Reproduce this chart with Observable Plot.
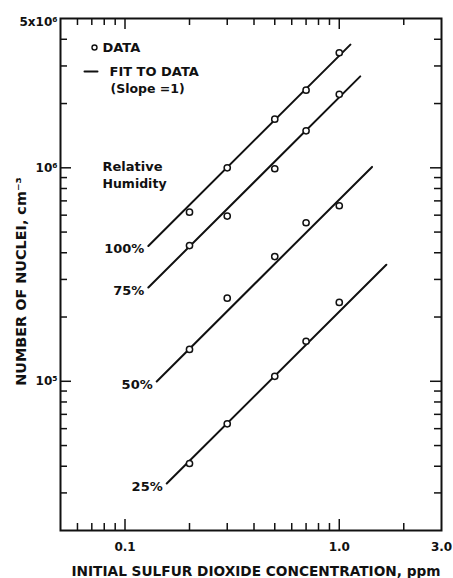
<!DOCTYPE html>
<html>
<head>
<meta charset="utf-8">
<script src="https://cdn.jsdelivr.net/npm/d3@7"></script>
<script src="https://cdn.jsdelivr.net/npm/@observablehq/plot@0.6"></script>
<style>
  html, body { margin: 0; padding: 0; background: #fff; }
</style>
</head>
<body>
<div id="chart"></div>
<script>
// ---- data ----
const concentration = [0.2, 0.3, 0.5, 0.7, 1.0];          // ppm SO2
const humidity = ["100%", "75%", "50%", "25%"];
const nuclei100 = [6.2e5, 1.0e6, 1.69e6, 2.31e6, 3.46e6];
const nuclei75  = [4.32e5, 5.94e5, 9.9e5, 1.49e6, 2.21e6];
const nuclei50  = [1.41e5, 2.45e5, 3.84e5, 5.53e5, 6.64e5];
const nuclei25  = [4.12e4, 6.32e4, 1.055e5, 1.54e5, 2.34e5];
// fits of slope 1 (N = k * c), with their drawn extent in c
const fitCoef  = [3.35e6, 2.14e6, 7.1e5, 2.12e5];
const fitStart = [0.1285, 0.1285, 0.1406, 0.1566];
const fitEnd   = [1.127, 1.253, 1.422, 1.658];
// axes
const xTickValues = [0.1, 1, 3];
const xTickText   = ["0.1", "1.0", "3.0"];
const yTickValues = [1e5, 1e6];
const yTickText   = ["10⁵", "10⁶"];
const yTopValue = [5e6];
const yTopText = "5x10⁶";
const xMajorTicks = [0.1, 1];
const xMinorTicks = [0.06, 0.07, 0.08, 0.09, 0.2, 0.3, 0.4, 0.5, 0.6, 0.7, 0.8, 0.9, 2];
const yMajorTicks = [1e5, 1e6];
const yMinorTicks = [3e4, 4e4, 5e4, 6e4, 7e4, 8e4, 9e4,
                     2e5, 3e5, 4e5, 5e5, 6e5, 7e5, 8e5, 9e5,
                     2e6, 3e6, 4e6];
const xTitle = "INITIAL SULFUR DIOXIDE CONCENTRATION, ppm";
const yTitle = "NUMBER OF NUCLEI, cm⁻³";
const legendText = ["DATA", "FIT TO DATA", "(Slope =1)"];
const humidityTitle = ["Relative", "Humidity"];

// ---- layout ----
const W = 453, H = 578;
const mL = 60, mR = 12, mT = 18, mB = 48;
const innerW = W - mL - mR, innerH = H - mT - mB;
const ink = "#111";
const minorLen = 7, majorLen = 11;

const series = [nuclei100, nuclei75, nuclei50, nuclei25];
const points = humidity.flatMap((h, j) =>
  concentration.map((c, i) => ({h, c, n: series[j][i]})));
const fitRows = humidity.flatMap((h, j) =>
  [fitStart[j], fitEnd[j]].map(c => ({h, c, n: fitCoef[j] * c})));
const labelRows = humidity.map((h, j) => ({h, c: fitStart[j], n: fitCoef[j] * fitStart[j]}));

const lineShape = {draw(context, l) { context.moveTo(0, 0); context.lineTo(0, -l); }};
const note = (t, dx, dy, size) => Plot.text([t], {
  frameAnchor: "top-left", dx, dy, text: d => d,
  textAnchor: "start", lineAnchor: "middle", fontSize: size, fill: ink
});

const chart = Plot.plot({
  width: W, height: H,
  marginLeft: mL, marginRight: mR, marginTop: mT, marginBottom: mB,
  style: {fontFamily: "DejaVu Sans", fontWeight: "bold", fontSize: "12px", color: ink, background: "#fff"},
  x: {type: "log", domain: [0.05, 3], axis: null},
  y: {type: "log", domain: [2e4, 5.005e6]},
  marks: [
    // inward ticks on all four sides
    Plot.tickX(xMinorTicks, {insetTop: innerH - minorLen, stroke: ink, strokeWidth: 1.5}),
    Plot.tickX(xMajorTicks, {insetTop: innerH - majorLen, stroke: ink, strokeWidth: 1.5}),
    Plot.tickX(xMinorTicks, {insetBottom: innerH - minorLen, stroke: ink, strokeWidth: 1.5}),
    Plot.tickX(xMajorTicks, {insetBottom: innerH - majorLen, stroke: ink, strokeWidth: 1.5}),
    Plot.tickY(yMinorTicks, {insetRight: innerW - minorLen, stroke: ink, strokeWidth: 1.5}),
    Plot.tickY(yMajorTicks, {insetRight: innerW - majorLen, stroke: ink, strokeWidth: 1.5}),
    Plot.tickY(yMinorTicks, {insetLeft: innerW - minorLen, stroke: ink, strokeWidth: 1.5}),
    Plot.tickY(yMajorTicks, {insetLeft: innerW - majorLen, stroke: ink, strokeWidth: 1.5}),
    Plot.frame({stroke: ink, strokeWidth: 2}),
    // tick labels
    Plot.text(xTickValues, {
      x: d => d, frameAnchor: "bottom", lineAnchor: "top", textAnchor: "middle", dy: 12,
      text: d => xTickText[xTickValues.indexOf(d)], fontSize: 12, fill: ink
    }),
    Plot.axisY(yTickValues, {
      tickFormat: d => yTickText[yTickValues.indexOf(d)],
      tickSize: 0, tickPadding: 3, fontSize: 12, label: null
    }),
    Plot.axisY(yTopValue, {
      tickFormat: () => yTopText,
      tickSize: 0, tickPadding: 3, fontSize: 12, dy: 4, label: null
    }),
    // axis titles
    Plot.text([xTitle], {frameAnchor: "bottom", dx: 5, dy: 41, lineAnchor: "middle", text: d => d, fontSize: 13.7, fill: ink}),
    Plot.text([yTitle], {frameAnchor: "left", dx: -39, dy: 7, rotate: -90, lineAnchor: "middle", textAnchor: "middle", text: d => d, fontSize: 14.4, fill: ink}),
    // fits
    Plot.line(fitRows, {x: "c", y: "n", z: "h", stroke: ink, strokeWidth: 2}),
    Plot.text(labelRows, {x: "c", y: "n", text: "h", textAnchor: "end", dx: -4, dy: 3, fontSize: 13, fill: ink}),
    // data
    Plot.dot(points, {x: "c", y: "n", r: 3.1, stroke: ink, strokeWidth: 1.5, fill: "#fff"}),
    // legend
    Plot.dot([0], {x: null, y: null, frameAnchor: "top-left", dx: 34, dy: 29, r: 2.5, stroke: ink, strokeWidth: 1.4, fill: "#fff"}),
    Plot.vector([0], {x: null, y: null, frameAnchor: "top-left", dx: 24, dy: 53, length: 13, rotate: 90, anchor: "start", shape: lineShape, stroke: ink, strokeWidth: 2}),
    note(legendText[0], 42, 29, 13),
    note(legendText[1], 49, 53.5, 13),
    note(legendText[2], 50, 70, 12.5),
    note(humidityTitle[0], 42, 148, 13),
    note(humidityTitle[1], 42, 165, 12.5)
  ]
});
document.getElementById("chart").appendChild(chart);
</script>
</body>
</html>
